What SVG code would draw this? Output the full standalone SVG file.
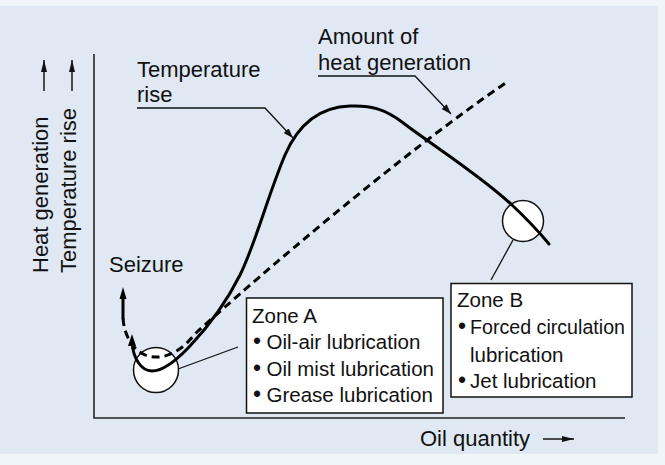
<svg xmlns="http://www.w3.org/2000/svg" width="665" height="465" viewBox="0 0 665 465">
<defs>
<style>
.t{font-family:"Liberation Sans",Arial,Helvetica,sans-serif;font-size:22px;fill:#111}
.b{font-family:"Liberation Sans",Arial,Helvetica,sans-serif;font-size:20.5px;fill:#111}
.bul{font-size:23px}
.ax{fill:none;stroke:#222;stroke-width:1.6}
.ld{fill:none;stroke:#111;stroke-width:1.3}
.box{fill:#fff;stroke:#111;stroke-width:1.5}
.cir{fill:#fff;stroke:#111;stroke-width:1.5}
.sol{fill:none;stroke:#000;stroke-width:3;stroke-linecap:round;stroke-linejoin:round}
.dsh{fill:none;stroke:#000;stroke-width:3;stroke-dasharray:8 5}
</style>
<marker id="ah" viewBox="0 0 10 7" refX="10" refY="3.5" markerWidth="10" markerHeight="7" markerUnits="userSpaceOnUse" orient="auto">
<path d="M0,0 L10,3.5 L0,7 z" fill="#111"/>
</marker>
<marker id="ahx" viewBox="0 0 12 6" refX="12" refY="3" markerWidth="12" markerHeight="6" markerUnits="userSpaceOnUse" orient="auto">
<path d="M0,0 L12,3 L0,6 z" fill="#111"/>
</marker>
</defs>
<rect width="665" height="465" fill="#f0f5fa"/>
<rect x="0" y="6" width="658" height="448" fill="#dfe8f3"/>
<g id="axes">
<path class="ax" d="M94,54 V418 H625"/>
<path class="ax" d="M44,91 V60" marker-end="url(#ahx)"/>
<path class="ax" d="M72,91 V60" marker-end="url(#ahx)"/>
<path class="ax" d="M543,439 H574" marker-end="url(#ahx)"/>
<text class="t" transform="translate(48,273) rotate(-90)">Heat generation</text>
<text class="t" transform="translate(76,273) rotate(-90)">Temperature rise</text>
<text class="t" x="420" y="446">Oil quantity</text>
</g>
<g id="zone-a-circle"><circle class="cir" cx="156" cy="370" r="22.5"/></g>
<g id="zone-b-circle"><circle class="cir" cx="523" cy="221" r="20.5"/></g>
<g id="curves">
<path id="temperature-curve" class="sol" d="M132,342 C133,358 141,371 152,371 C163,371 175,362 190,346 C205,330 225,305 240,275 C255,245 268,195 285,155 C298,125 318,107 350,106 C372,105 386,110 402,122 C432,145 480,175 512,205 C530,222 540,233 549,244"/>
<polygon points="132,334 128,346 136,346" fill="#000"/>
<path id="heat-curve" class="dsh" d="M123,318 C124,335 133,352 148,356 C160,359 172,356 186,344 L197,332 C260,275 400,155 507,82"/>
<path class="sol" d="M123,318 V296"/>
<polygon points="123,287 119.5,299 126.5,299" fill="#000"/>
</g>
<g id="connectors">
<path class="ld" d="M137,108 H265 L293,138" marker-end="url(#ah)"/>
<path class="ld" d="M318,76 H415 L451,114" marker-end="url(#ah)"/>
<path class="ld" d="M178,369 L238,347"/>
<path class="ld" d="M513,240 L491,280"/>
</g>
<g id="labels">
<text class="t" x="318" y="44">Amount of</text>
<text class="t" x="318" y="70">heat generation</text>
<text class="t" x="137" y="77">Temperature</text>
<text class="t" x="137" y="102">rise</text>
<text class="t" x="109" y="272">Seizure</text>
</g>
<g id="zone-a">
<rect class="box" x="246.5" y="298" width="196.5" height="115"/>
<text class="b" x="252" y="322.5">Zone A</text>
<text class="b" y="349"><tspan class="bul" x="253">•</tspan><tspan x="266.5">Oil-air lubrication</tspan></text>
<text class="b" y="376"><tspan class="bul" x="253">•</tspan><tspan x="266.5">Oil mist lubrication</tspan></text>
<text class="b" y="402"><tspan class="bul" x="253">•</tspan><tspan x="266.5">Grease lubrication</tspan></text>
</g>
<g id="zone-b">
<rect class="box" x="451" y="283.5" width="181" height="113.5"/>
<text class="b" x="457" y="307">Zone B</text>
<text class="b" y="334"><tspan class="bul" x="458">•</tspan><tspan x="470" textLength="155" lengthAdjust="spacingAndGlyphs">Forced circulation</tspan></text>
<text class="b" x="470" y="361.5">lubrication</text>
<text class="b" y="388"><tspan class="bul" x="458">•</tspan><tspan x="470">Jet lubrication</tspan></text>
</g>
</svg>
